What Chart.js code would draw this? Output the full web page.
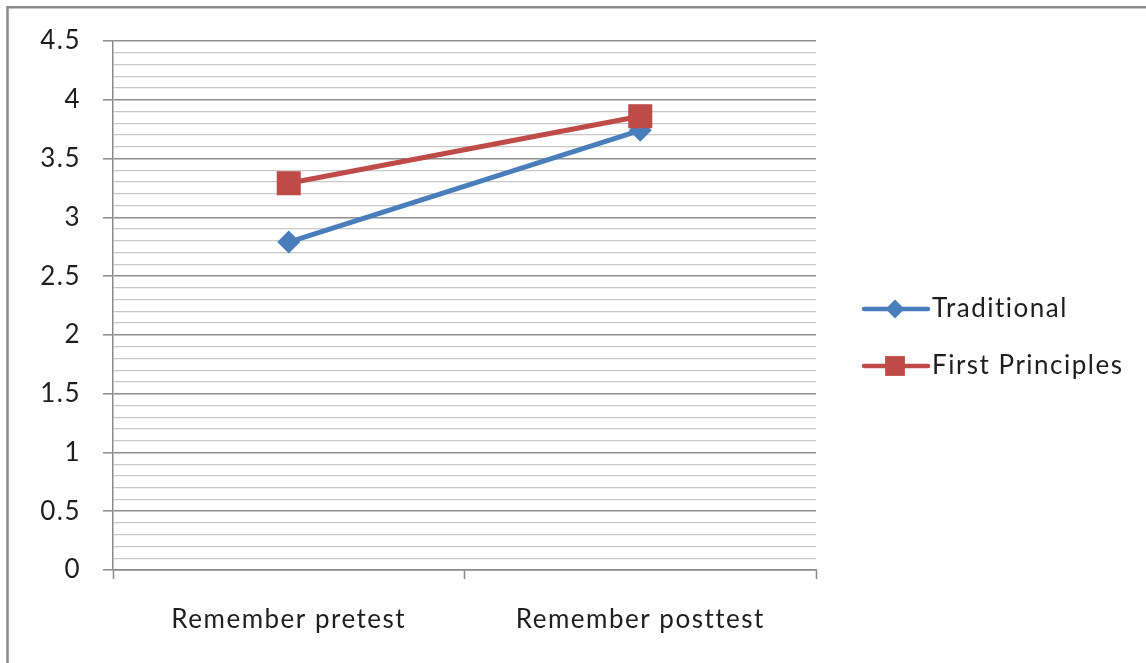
<!DOCTYPE html>
<html>
<head>
<meta charset="utf-8">
<script src="https://cdn.jsdelivr.net/npm/chart.js@4.4.1/dist/chart.umd.min.js"></script>
<style>
  html, body { margin: 0; padding: 0; background: #fff; }
  canvas { display: block; }
</style>
</head>
<body>
<canvas id="chart" width="1146" height="663"></canvas>
<script>
// Mean "Remember" scores before and after instruction
const categories = ['Remember pretest', 'Remember posttest'];
const seriesNames = ['Traditional', 'First Principles'];
const traditional = [2.79, 3.74];
const firstPrinciples = [3.29, 3.86];
const yMin = 0;
const yMax = 4.5;
const majorStep = 0.5;
const minorStep = 0.1;

const BLUE = '#4A7EBB';
const RED = '#BE4B48';
const FONT = 'Lato, "Open Sans", sans-serif';
const FONT_SIZE = 26;
const LETTER_SPACING = '1.5px';
const TEXT = '#1e1e1e';

const isMajor = v => Math.abs(v / majorStep - Math.round(v / majorStep)) < 1e-6;

// Outer frame of the chart box and the legend at the right
const framePlugin = {
  id: 'frameAndLegend',
  beforeDraw(chart) {
    const ctx = chart.ctx;
    ctx.fillStyle = '#fff';
    ctx.fillRect(0, 0, chart.width, chart.height);
    ctx.strokeStyle = '#8a8a8a';
    ctx.lineWidth = 2.5;
    ctx.beginPath();
    ctx.moveTo(7.5, chart.height + 5);
    ctx.lineTo(7.5, 7.2);
    ctx.lineTo(chart.width + 5, 7.2);
    ctx.stroke();
    // wider tracking for all axis text
    ctx.letterSpacing = LETTER_SPACING;
  },
  afterDraw(chart) {
    const ctx = chart.ctx;
    const rows = [309, 366];
    const x0 = 864, x1 = 928, markX = 895;
    const legendMarkers = [
      { pointStyle: 'rectRot', radius: 9.5 },
      { pointStyle: 'rect', radius: 14 }
    ];
    ctx.save();
    ctx.letterSpacing = LETTER_SPACING;
    chart.data.datasets.forEach((ds, i) => {
      const y = rows[i];
      ctx.strokeStyle = ds.borderColor;
      ctx.lineWidth = 4.5;
      ctx.lineCap = 'round';
      ctx.beginPath();
      ctx.moveTo(x0, y);
      ctx.lineTo(x1, y);
      ctx.stroke();
      ctx.fillStyle = ds.pointBackgroundColor;
      ctx.strokeStyle = ds.pointBorderColor;
      Chart.helpers.drawPoint(ctx, {
        pointStyle: legendMarkers[i].pointStyle,
        radius: legendMarkers[i].radius,
        rotation: 0,
        borderWidth: 0
      }, markX, y);
      ctx.fillStyle = TEXT;
      ctx.font = FONT_SIZE + 'px ' + FONT;
      ctx.textAlign = 'left';
      ctx.textBaseline = 'middle';
      ctx.fillText(ds.label, 932, y);
    });
    ctx.restore();
  }
};

new Chart(document.getElementById('chart'), {
  type: 'line',
  data: {
    labels: categories,
    datasets: [
      {
        label: seriesNames[0],
        data: traditional,
        borderColor: BLUE,
        backgroundColor: BLUE,
        pointBackgroundColor: BLUE,
        pointBorderColor: BLUE,
        borderWidth: 5,
        pointStyle: 'rectRot',
        pointRadius: 11.5,
        pointBorderWidth: 0,
        pointHoverRadius: 11.5,
        order: 1
      },
      {
        label: seriesNames[1],
        data: firstPrinciples,
        borderColor: RED,
        backgroundColor: RED,
        pointBackgroundColor: RED,
        pointBorderColor: RED,
        borderWidth: 5,
        pointStyle: 'rect',
        pointRadius: 17,
        pointBorderWidth: 0,
        pointHoverRadius: 17,
        order: 0
      }
    ]
  },
  options: {
    responsive: false,
    animation: false,
    devicePixelRatio: 1,
    layout: { padding: { left: 0, top: 41, right: 330, bottom: 0 } },
    plugins: {
      legend: { display: false },
      tooltip: { enabled: false }
    },
    scales: {
      x: {
        type: 'category',
        offset: true,
        grid: {
          offset: true,
          drawOnChartArea: false,
          drawTicks: true,
          tickLength: 9,
          tickColor: '#8a8a8a',
          tickWidth: 1.5
        },
        border: { display: true, color: '#8a8a8a', width: 1.5 },
        ticks: {
          color: TEXT,
          font: { family: FONT, size: FONT_SIZE },
          padding: 25,
          maxRotation: 0
        },
        afterFit(scale) { scale.height = 93; }
      },
      y: {
        type: 'linear',
        min: yMin,
        max: yMax,
        grid: {
          drawTicks: true,
          tickLength: 10,
          color: ctx => isMajor(ctx.tick.value) ? '#8f8f8f' : '#c8c8c8',
          lineWidth: ctx => isMajor(ctx.tick.value) ? 1.6 : 1.3,
          tickColor: ctx => isMajor(ctx.tick.value) ? '#8a8a8a' : 'rgba(0,0,0,0)',
          tickWidth: 1.5
        },
        border: { display: true, color: '#8a8a8a', width: 1.5 },
        ticks: {
          stepSize: minorStep,
          autoSkip: false,
          color: TEXT,
          font: { family: FONT, size: FONT_SIZE },
          padding: 22,
          callback: v => isMajor(v) ? String(Math.round(v * 10) / 10) : ''
        },
        afterFit(scale) { scale.width = 113; }
      }
    }
  },
  plugins: [framePlugin]
});
</script>
</body>
</html>
